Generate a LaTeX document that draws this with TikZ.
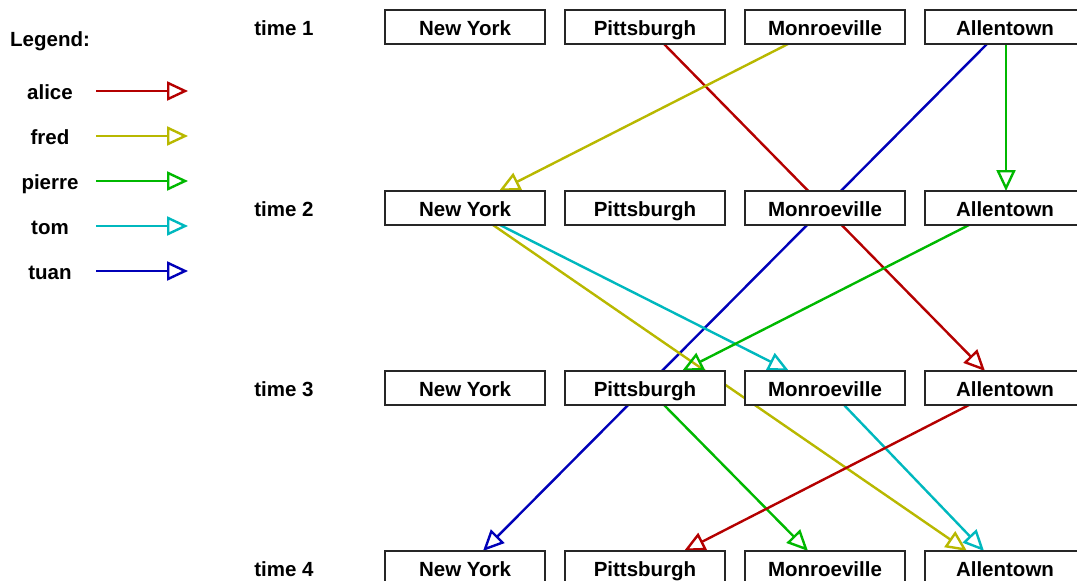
\documentclass[tikz,border=0pt]{standalone}
\usepackage{fontspec}
\setmainfont{Liberation Sans}
\usetikzlibrary{arrows.meta,backgrounds,calc}
\definecolor{calice}{RGB}{180,0,0}
\definecolor{cfred}{RGB}{184,184,0}
\definecolor{cpierre}{RGB}{0,184,0}
\definecolor{ctom}{RGB}{0,184,190}
\definecolor{ctuan}{RGB}{0,0,184}
\begin{document}
\begin{tikzpicture}[x=1pt,y=-1pt,
  txt/.style={font=\fontsize{20.5}{24}\selectfont\bfseries,text height=17pt,text depth=0pt},
  city/.style={txt,draw=black!85,line width=1.4pt,fill=white,minimum width=160pt,minimum height=34pt,inner sep=0pt,outer sep=0pt},
  lbl/.style={txt,inner sep=0pt},
  mv/.style={line width=2.4pt,-{Triangle[open,length=21pt,width=19pt]}}]
\useasboundingbox (0,0) rectangle (1077,581);
\foreach \r/\y in {1/27,2/208,3/388,4/568} {
  \node[city] (ny\r) at (465,\y) {New York};
  \node[city] (pi\r) at (645,\y) {Pittsburgh};
  \node[city] (mo\r) at (825,\y) {Monroeville};
  \node[city] (al\r) at (1005,\y) {Allentown};
  \node[lbl] (t\r) at (284,\y) {time \r};
}
% legend
\node[lbl,anchor=west] (leg) at (10,38) {Legend:};
\foreach \n/\c/\y in {alice/calice/91,fred/cfred/136,pierre/cpierre/181,tom/ctom/226,tuan/ctuan/271} {
  \node[lbl] (l\n) at (50,\y) {\n};
  \coordinate (s\n) at (96,\y);
  \coordinate (e\n) at (188,\y);
  \draw[mv,\c] (s\n) -- (e\n);
}
\begin{pgfonlayer}{background}
% time 1
\draw[mv,calice]  ([xshift=19pt]pi1.south)  -- ([xshift=-20pt]al3.north);
\draw[mv,cfred]   ([xshift=-37pt]mo1.south) -- ([xshift=34pt]ny2.north);
\draw[mv,cpierre] ([xshift=1pt]al1.south)   -- ([xshift=1pt]al2.north);
\draw[mv,ctuan]   ([xshift=-18pt]al1.south) -- ([xshift=18pt]ny4.north);
% time 2
\draw[mv,cfred]   ([xshift=28pt]ny2.south)  -- ([xshift=-38pt]al4.north);
\draw[mv,ctom]    ([xshift=35pt]ny2.south)  -- ([xshift=-36pt]mo3.north);
\draw[mv,cpierre] ([xshift=-36pt]al2.south) -- ([xshift=37pt]pi3.north);
% time 3
\draw[mv,cpierre] ([xshift=19pt]pi3.south)  -- ([xshift=-17pt]mo4.north);
\draw[mv,ctom]    ([xshift=19pt]mo3.south)  -- ([xshift=-21pt]al4.north);
\draw[mv,calice]  ([xshift=-36pt]al3.south) -- ([xshift=39pt]pi4.north);
\end{pgfonlayer}
\end{tikzpicture}
\end{document}
